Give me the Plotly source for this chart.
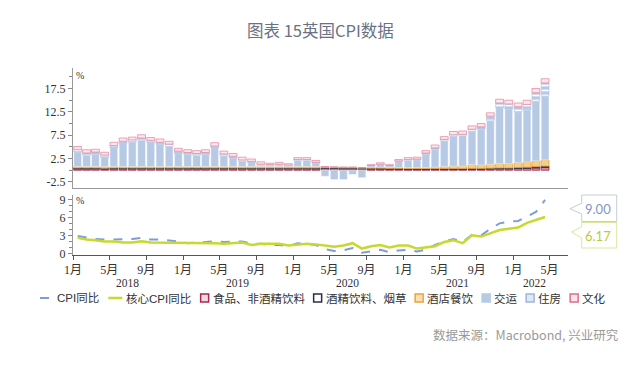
import plotly.graph_objects as go
import pandas as pd

# ---------------- data ----------------
months = pd.date_range("2018-01-01", periods=52, freq="MS")

series_names = ["食品、非酒精饮料", "酒精饮料、烟草", "酒店餐饮", "交运", "住房", "文化"]
line_names = ["CPI同比", "核心CPI同比"]

food = [0.3, 0.3, 0.3, 0.25, 0.3, 0.3, 0.3, 0.3, 0.3, 0.3, 0.3, 0.3,
        0.3, 0.3, 0.3, 0.3, 0.3, 0.3, 0.3, 0.3, 0.3, 0.3, 0.3, 0.3,
        0.3, 0.3, 0.3, 0.35, 0.35, 0.3, 0.3, 0.3, 0.25, 0.25, 0.2, 0.2,
        0.15, 0.15, 0.15, 0.15, 0.15, 0.15, 0.15, 0.2, 0.2, 0.25, 0.3, 0.3,
        0.35, 0.4, 0.5, 0.6]
alcohol = [0.2, 0.2, 0.2, 0.2, 0.2, 0.2, 0.2, 0.2, 0.2, 0.2, 0.2, 0.2,
           0.2, 0.2, 0.2, 0.2, 0.2, 0.2, 0.2, 0.2, 0.2, 0.2, 0.2, 0.2,
           0.2, 0.2, 0.2, 0.2, 0.2, 0.2, 0.2, 0.2, 0.2, 0.2, 0.2, 0.2,
           0.2, 0.2, 0.2, 0.2, 0.2, 0.2, 0.2, 0.2, 0.2, 0.2, 0.2, 0.2,
           0.25, 0.25, 0.3, 0.3]
hotel = [0.3, 0.3, 0.3, 0.3, 0.3, 0.3, 0.3, 0.3, 0.3, 0.3, 0.3, 0.3,
         0.3, 0.3, 0.3, 0.3, 0.3, 0.3, 0.3, 0.3, 0.3, 0.3, 0.3, 0.3,
         0.3, 0.3, 0.3, 0.15, 0.1, 0.1, 0.1, 0.05, 0.2, 0.2, 0.2, 0.2,
         0.2, 0.2, 0.2, 0.3, 0.4, 0.5, 0.5, 0.8, 0.7, 0.8, 0.9, 0.9,
         1.0, 1.1, 1.2, 1.3]
transport = [3.1, 2.4, 2.6, 2.0, 4.0, 4.9, 5.2, 5.6, 5.1, 4.7, 4.3, 2.8,
             2.6, 2.4, 2.6, 4.0, 2.3, 1.8, 1.1, 0.8, 0.2, 0.2, 0.3, 0.1,
             1.3, 1.3, 0.7, -1.3, -2.0, -2.0, -0.9, -1.6, 0.25, 0.55, 0.3, 1.3,
             1.55, 1.65, 2.85, 3.85, 5.55, 6.45, 6.55, 7.2, 7.7, 9.35, 12.0, 11.7,
             10.9, 11.15, 12.8, 13.7]
housing = [0.5, 0.5, 0.5, 0.5, 0.5, 0.5, 0.5, 0.5, 0.5, 0.5, 0.5, 0.5,
           0.4, 0.4, 0.4, 0.4, 0.4, 0.4, 0.3, 0.3, 0.3, 0.2, 0.2, 0.2,
           0.2, 0.2, 0.2, 0.0, 0.0, 0.0, 0.0, 0.0, 0.1, 0.1, 0.1, 0.1,
           0.2, 0.2, 0.3, 0.3, 0.3, 0.3, 0.3, 0.4, 0.5, 1.0, 1.0, 1.1,
           1.1, 1.2, 1.8, 2.8]
culture = [0.7, 0.7, 0.6, 0.6, 0.7, 0.7, 0.6, 0.7, 0.6, 0.7, 0.6, 0.6,
           0.6, 0.6, 0.6, 0.7, 0.6, 0.6, 0.6, 0.5, 0.5, 0.3, 0.4, 0.3,
           0.4, 0.4, 0.4, 0.1, 0.05, 0.1, 0.1, 0.05, 0.2, 0.3, 0.2, 0.3,
           0.4, 0.4, 0.5, 0.6, 0.6, 0.7, 0.7, 0.7, 0.7, 0.7, 0.8, 0.8,
           0.8, 0.9, 0.9, 0.9]

cpi = [3.0, 2.7, 2.5, 2.4, 2.4, 2.4, 2.5, 2.7, 2.4, 2.4, 2.3, 2.1,
       1.8, 1.9, 1.9, 2.1, 2.0, 2.0, 2.1, 1.7, 1.7, 1.5, 1.5, 1.3,
       1.8, 1.7, 1.5, 0.8, 0.5, 0.6, 1.0, 0.2, 0.5, 0.7, 0.3, 0.6,
       0.7, 0.4, 0.7, 1.5, 2.1, 2.5, 2.0, 3.2, 3.1, 4.2, 5.1, 5.4,
       5.5, 6.2, 7.0, 9.0]
core = [2.7, 2.4, 2.3, 2.1, 2.1, 1.9, 1.9, 2.1, 1.9, 1.9, 1.8, 1.9,
        1.9, 1.8, 1.8, 1.8, 1.7, 1.8, 1.9, 1.5, 1.7, 1.7, 1.7, 1.4,
        1.6, 1.7, 1.6, 1.4, 1.2, 1.4, 1.8, 0.9, 1.3, 1.5, 1.1, 1.4,
        1.4, 0.9, 1.1, 1.3, 2.0, 2.3, 1.8, 3.1, 2.9, 3.4, 4.0, 4.2,
        4.4, 5.2, 5.7, 6.17]

month_tick_months = [1, 5, 9]
month_tick_text = ["1月", "5月", "9月"]
year_labels = ["2018", "2019", "2020", "2021", "2022"]
top_ticks = [-2.5, 2.5, 7.5, 12.5, 17.5]
bottom_ticks = [0, 3, 6, 9]

title_text = "图表 15英国CPI数据"
source_text = "数据来源：Macrobond, 兴业研究"

# ---------------- styles ----------------
W, H = 640, 373


def px(x):
    return x / W


def py(y):
    return 1 - y / H


CPI_C = "#7f9dd6"
CORE_C = "#c5d92f"
BLUE = "#b6c9e5"
bar_styles = [
    dict(color="#d98aa0", line=dict(color="#a8284f", width=0.8)),
    dict(color="#4a5068", line=dict(color="#283048", width=0.8)),
    dict(color="#f6cf86", line=dict(color="#eba33a", width=0.8)),
    dict(color=BLUE, line=dict(color="#ffffff", width=0.5)),
    dict(color=BLUE, line=dict(color="#a5bbdf", width=0.5),
         pattern=dict(shape="-", fgcolor="#ffffff", bgcolor=BLUE, size=5, solidity=0.35)),
    dict(color="#fbe9ee", line=dict(color="#e88aa3", width=0.8)),
]
legend_sq = [("#f3dbe2", "#a8284f"), ("#ffffff", "#283048"), ("#f9e1b3", "#eba33a"),
             (BLUE, BLUE), ("#dfe8f5", "#9fb6dc"), ("#fbe6ec", "#e06b8b")]

SERIF = "Liberation Serif, Noto Sans CJK SC, serif"
CJK = "Noto Sans CJK SC, sans-serif"

fig = go.Figure()

for name, vals, st in zip(series_names, [food, alcohol, hotel, transport, housing, culture], bar_styles):
    fig.add_trace(go.Bar(x=months, y=vals, name=name, marker=st,
                         xperiod="M1", xperiodalignment="middle",
                         xaxis="x", yaxis="y", showlegend=False))

fig.add_trace(go.Scatter(x=months, y=cpi, name=line_names[0], mode="lines",
                         line=dict(color=CPI_C, width=2, dash="dash"),
                         xperiod="M1", xperiodalignment="middle",
                         xaxis="x2", yaxis="y2", showlegend=False))
fig.add_trace(go.Scatter(x=months, y=core, name=line_names[1], mode="lines",
                         line=dict(color=CORE_C, width=2.5),
                         xperiod="M1", xperiodalignment="middle",
                         xaxis="x2", yaxis="y2", showlegend=False))

xdom = [px(73), px(568)]
xrange = ["2018-01-01", "2022-07-01"]
tickvals = [d for d in pd.date_range("2018-01-01", "2022-05-01", freq="MS") if d.month in month_tick_months]
ticktext = [month_tick_text[month_tick_months.index(d.month)] for d in tickvals]

fig.update_layout(
    template="none",
    width=W, height=H, margin=dict(l=0, r=0, t=0, b=0, autoexpand=False),
    paper_bgcolor="white", plot_bgcolor="white",
    barmode="relative", bargap=0.12,
    showlegend=False,
    xaxis=dict(domain=xdom, range=xrange, type="date", anchor="y", automargin=False,
               showticklabels=False, ticks="", showgrid=False, zeroline=False,
               showline=True, linecolor="#9a9a9a", linewidth=1),
    yaxis=dict(domain=[py(188), py(68)], range=[-3.8, 21.9], anchor="x", automargin=False,
               tickvals=top_ticks, ticktext=[str(v) for v in top_ticks],
               ticks="outside", ticklen=4, tickcolor="#888",
               minor=dict(dtick=2.5, tick0=0, ticks="outside", ticklen=3, tickcolor="#888"),
               showgrid=False, zeroline=False, showline=True, linecolor="#9a9a9a",
               tickfont=dict(family=SERIF, size=12, color="#333")),
    xaxis2=dict(domain=xdom, range=xrange, type="date", anchor="y2", automargin=False,
                tickvals=tickvals, ticktext=ticktext, ticks="outside", ticklen=4,
                tickcolor="#555", showgrid=False, zeroline=False,
                showline=True, linecolor="#555", linewidth=1,
                tickfont=dict(family=SERIF, size=12, color="#333")),
    yaxis2=dict(domain=[py(255), py(195)], range=[-0.17, 9.83], anchor="x2", automargin=False,
                tickvals=bottom_ticks, ticks="outside", ticklen=4, tickcolor="#888",
                minor=dict(dtick=1, tick0=0, ticks="outside", ticklen=3, tickcolor="#888"),
                showgrid=False, zeroline=False, showline=True, linecolor="#9a9a9a",
                tickfont=dict(family=SERIF, size=12, color="#333")),
)

ann = []
shapes = []


def note(text, x, y, font, xanchor="center", xref="paper"):
    ann.append(dict(text=text, x=x, y=y, xref=xref, yref="paper", xanchor=xanchor,
                    yanchor="middle", showarrow=False, borderpad=0, font=font))


note(title_text, px(320), py(30), dict(family=CJK, size=16.5, color="#6b7185"))
note(source_text, px(620), py(334), dict(family=CJK, size=12.5, color="#9a9a9a"), xanchor="right")
for yy in (75, 200):
    note("%", px(80), py(yy), dict(family=SERIF, size=10, color="#333"))
year_pos = ["2018-07-01", "2019-07-01", "2020-07-01", "2021-07-01", "2022-03-12"]
for yl, xp in zip(year_labels, year_pos):
    note(yl, xp, py(283), dict(family=SERIF, size=11.5, color="#333"), xref="x2")


def path(points):
    return "M " + " L ".join(f"{px(x):.5f},{py(y):.5f}" for x, y in points) + " Z"


box1 = [(581.7, 195), (616.7, 195), (616.7, 221.5), (581.7, 221.5), (581.7, 214), (570, 208.7), (581.7, 203.3)]
box2 = [(581.7, 222.5), (616.7, 222.5), (616.7, 248), (581.7, 248), (581.7, 238), (571.5, 232), (581.7, 226.7)]
shapes.append(dict(type="path", path=path(box1), xref="paper", yref="paper",
                   line=dict(color="#c6ccd9", width=1), fillcolor="white"))
shapes.append(dict(type="path", path=path(box2), xref="paper", yref="paper",
                   line=dict(color="#dce79a", width=1), fillcolor="white"))
note(f"{cpi[-1]:.2f}", px(598), py(209), dict(family="Lato, sans-serif", size=13, color="#8597c2"))
note(f"{core[-1]:.2f}", px(598), py(236), dict(family="Lato, sans-serif", size=13, color="#b9cc35"))

# ---- manual legend, laid out left to right ----
LY = 298
LFS = 11.5
LEGF = dict(family="Liberation Sans, Noto Sans CJK SC, sans-serif", size=LFS, color="#333")
leg_names = line_names + series_names


def text_w(s):
    w = 0.0
    for ch in s:
        if ord(ch) > 0x2000:
            w += LFS
        elif ch == "I":
            w += 0.28 * LFS
        else:
            w += 0.70 * LFS
    return w


cur = 40
for i, name in enumerate(leg_names):
    if i == 0:
        shapes.append(dict(type="line", x0=px(cur), x1=px(cur + 13), y0=py(LY), y1=py(LY),
                           xref="paper", yref="paper", line=dict(color=CPI_C, width=2, dash="dash")))
        cur += 16
    elif i == 1:
        shapes.append(dict(type="line", x0=px(cur), x1=px(cur + 14), y0=py(LY), y1=py(LY),
                           xref="paper", yref="paper", line=dict(color=CORE_C, width=2.5)))
        cur += 17
    else:
        fc, lc = legend_sq[i - 2]
        shapes.append(dict(type="rect", x0=px(cur), x1=px(cur + 8), y0=py(LY - 4), y1=py(LY + 4),
                           xref="paper", yref="paper", fillcolor=fc, line=dict(color=lc, width=1.5)))
        cur += 11
    note(name, px(cur), py(LY), LEGF, xanchor="left")
    cur += text_w(name) + 10

fig.update_layout(annotations=ann, shapes=shapes)

fig.write_html("out.html", config={"displayModeBar": False},
               post_script="document.body.style.margin='0';document.body.style.padding='0';")
